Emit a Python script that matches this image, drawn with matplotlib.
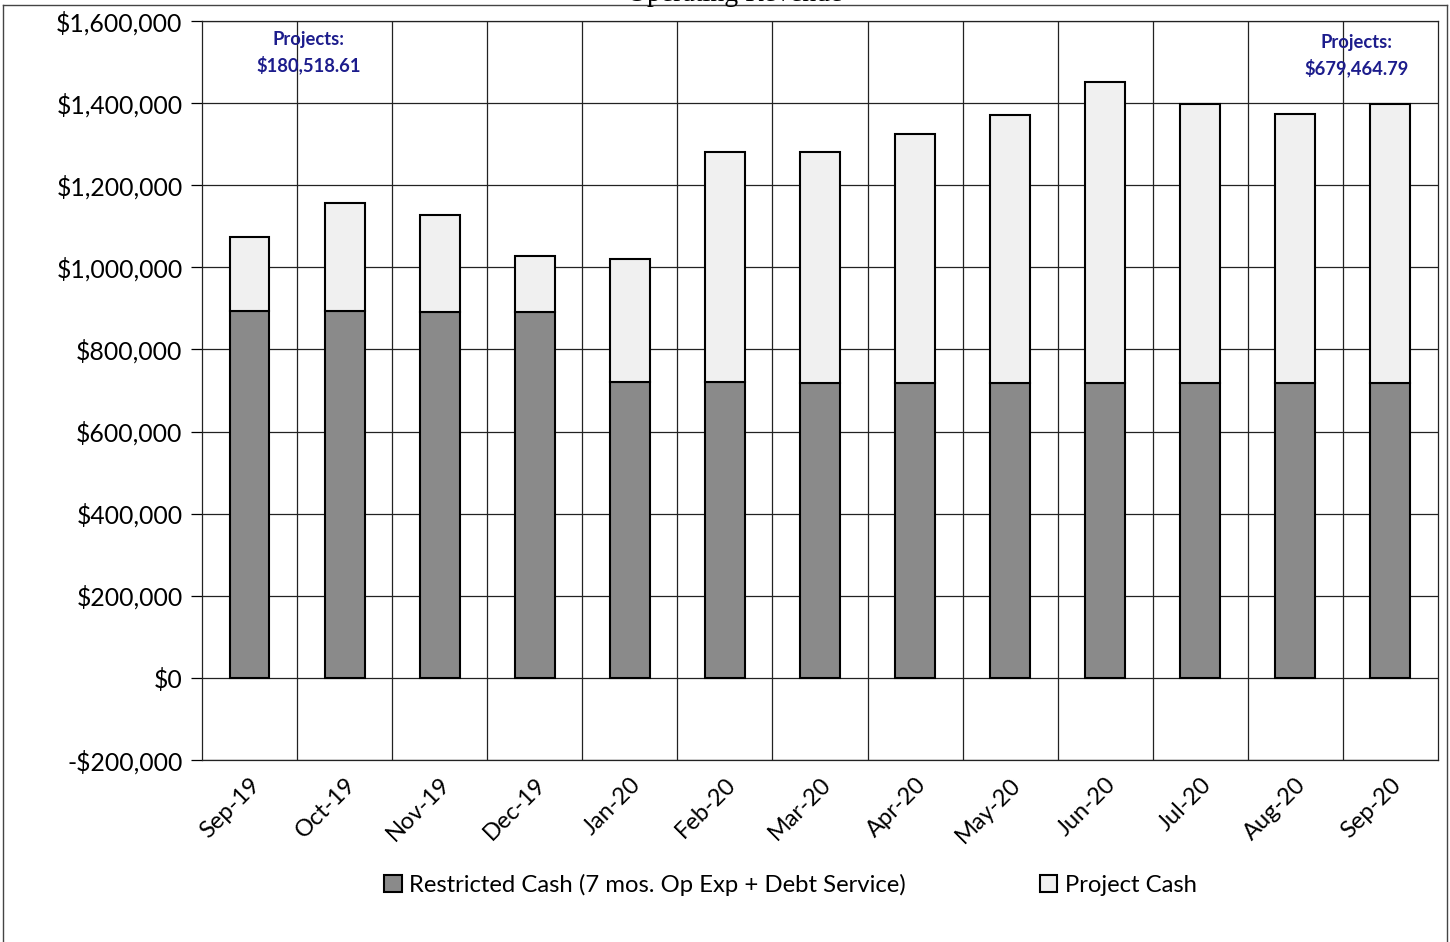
import numpy as np
import matplotlib.pyplot as plt
from matplotlib.lines import Line2D
from matplotlib.ticker import FuncFormatter

months = ["Sep-19", "Oct-19", "Nov-19", "Dec-19", "Jan-20", "Feb-20", "Mar-20",
          "Apr-20", "May-20", "Jun-20", "Jul-20", "Aug-20", "Sep-20"]
restricted = [892500, 892500, 892000, 891500, 720000, 720000, 719500,
              719000, 718500, 718500, 718500, 718000, 718000]
project = [180518.61, 263500, 235000, 135500, 300000, 560000, 560500,
           605000, 652500, 732500, 679500, 655000, 679464.79]

plt.rcParams['font.family'] = ['Lato', 'DejaVu Sans']

fig = plt.figure(figsize=(14.5, 9.42), dpi=100)
ax = fig.add_axes([0.1393, 0.1932, 0.8524, 0.7845])

x = np.arange(len(months))
w = 0.42
ax.bar(x, restricted, w, color='#8a8a8a', edgecolor='black', linewidth=1.5,
       label='Restricted Cash (7 mos. Op Exp + Debt Service)', zorder=3)
ax.bar(x, project, w, bottom=restricted, color='#f0f0f0', edgecolor='black',
       linewidth=1.5, label='Project Cash', zorder=3)

ax.set_xlim(-0.5, len(months) - 0.5)
ax.set_ylim(-200000, 1600000)
ax.set_yticks(np.arange(-200000, 1600001, 200000))
ax.yaxis.set_major_formatter(FuncFormatter(
    lambda v, p: f"-${abs(v):,.0f}" if v < 0 else f"${v:,.0f}"))

# category boundaries as vertical gridlines
for b in np.arange(0.5, len(months) - 0.5):
    ax.axvline(b, color='#222222', linewidth=0.9, zorder=1)
ax.grid(axis='y', color='#222222', linewidth=0.9, zorder=1)

ax.set_xticks(x)
ax.set_xticklabels(months, rotation=45, ha='right', rotation_mode='anchor')
ax.tick_params(axis='x', length=0, labelsize=17, pad=10)
ax.tick_params(axis='y', length=8, width=0.9, labelsize=17.8, pad=6)
for s in ax.spines.values():
    s.set_color('#222222')
    s.set_linewidth(0.9)

navy = '#1c1c8c'
ax.text(0.62, 1575000, "Projects:\n$180,518.61", ha='center', va='top',
        color=navy, fontsize=13.2, fontweight='bold', linespacing=1.45, zorder=4)
ax.text(11.64, 1568000, "Projects:\n$679,464.79", ha='center', va='top',
        color=navy, fontsize=13.2, fontweight='bold', linespacing=1.45, zorder=4)

fig.text(0.507, 0.999, "Operating Revenue", ha='center', va='baseline',
         family='Liberation Serif', fontsize=20)

fig.legend(loc='center', bbox_to_anchor=(0.545, 0.0605), ncol=2, frameon=False,
           fontsize=17.2, handlelength=0.75, handleheight=0.75, handletextpad=0.3,
           columnspacing=5.6)

# chart area border
for coords in [([0.002, 0.002], [0, 0.995]), ([0.998, 0.998], [0, 0.995]),
               ([0.002, 0.998], [0.995, 0.995])]:
    fig.add_artist(Line2D(coords[0], coords[1], color='#444444', linewidth=1,
                          transform=fig.transFigure))

fig.savefig('out.png', dpi=100)
